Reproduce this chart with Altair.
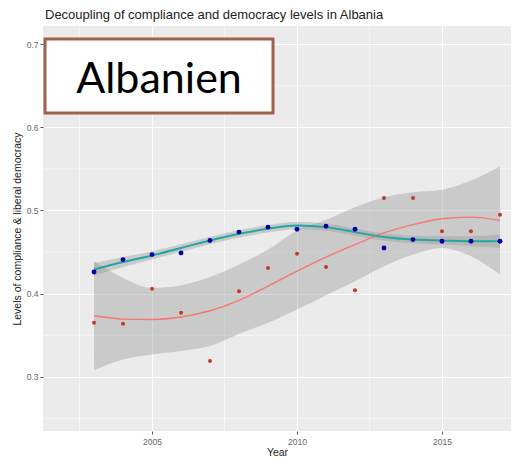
import altair as alt
import pandas as pd

years = list(range(2003, 2018))

# observed points
compliance = [0.365, 0.364, 0.406, 0.377, 0.319, 0.403, 0.431, 0.448, 0.432,
              0.404, 0.515, 0.515, 0.475, 0.475, 0.495]
democracy = [0.426, 0.441, 0.447, 0.449, 0.464, 0.474, 0.480, 0.4775, 0.481,
             0.4775, 0.455, 0.465, 0.463, 0.463, 0.463]

# smoothed fits and confidence bands
comp_fit = [0.3735, 0.3695, 0.369, 0.372, 0.3795, 0.392, 0.409, 0.427, 0.444,
            0.459, 0.473, 0.483, 0.490, 0.492, 0.488]
comp_lo = [0.308, 0.321, 0.327, 0.331, 0.337, 0.352, 0.365, 0.381, 0.398,
           0.415, 0.433, 0.447, 0.455, 0.445, 0.423]
comp_hi = [0.439, 0.419, 0.407, 0.410, 0.420, 0.435, 0.453, 0.476, 0.489,
           0.504, 0.516, 0.522, 0.525, 0.536, 0.553]

demo_fit = [0.429, 0.438, 0.446, 0.455, 0.464, 0.472, 0.478, 0.482, 0.480,
            0.474, 0.468, 0.465, 0.464, 0.463, 0.463]
demo_lo = [0.4215, 0.432, 0.441, 0.4505, 0.4595, 0.4675, 0.4735, 0.4775, 0.4755,
           0.4695, 0.4635, 0.4605, 0.459, 0.457, 0.455]
demo_hi = [0.4365, 0.444, 0.451, 0.4595, 0.4685, 0.4765, 0.4825, 0.4865, 0.4845,
           0.4785, 0.4725, 0.4695, 0.469, 0.469, 0.471]

x_major = [2005, 2010, 2015]
x_minor = [2002.5, 2007.5, 2012.5, 2017.5]
y_major = [0.3, 0.4, 0.5, 0.6, 0.7]
y_minor = [0.25, 0.35, 0.45, 0.55, 0.65]

title_text = "Decoupling of compliance and democracy levels in Albania"
x_title = "Year"
y_title = "Levels of compliance & liberal democracy"
label_text = "Albanien"

df = pd.DataFrame({
    "year": years,
    "compliance": compliance, "democracy": democracy,
    "comp_fit": comp_fit, "comp_lo": comp_lo, "comp_hi": comp_hi,
    "demo_fit": demo_fit, "demo_lo": demo_lo, "demo_hi": demo_hi,
})

W, H = 468, 405
xs = alt.Scale(domain=[2001.24, 2017.38], nice=False, zero=False)
ys = alt.Scale(domain=[0.235, 0.7217], nice=False, zero=False)

xaxis = alt.Axis(values=x_major, format="d", title=x_title, grid=True)
yaxis = alt.Axis(values=y_major, format=".1f", title=y_title, grid=True)


def X(field):
    return alt.X(field, scale=xs, axis=xaxis)


def Y(field):
    return alt.Y(field, scale=ys, axis=yaxis)


base = alt.Chart(df)

minor_x = alt.Chart(pd.DataFrame({"year": x_minor})).mark_rule(
    color="white", strokeWidth=0.5).encode(x=X("year:Q"))
minor_y = alt.Chart(pd.DataFrame({"v": y_minor})).mark_rule(
    color="white", strokeWidth=0.5).encode(y=Y("v:Q"))

band_c = base.mark_area(color="#999999", opacity=0.4, interpolate="monotone").encode(
    x=X("year:Q"), y=Y("comp_lo:Q"), y2="comp_hi:Q")
band_d = base.mark_area(color="#999999", opacity=0.4, interpolate="monotone").encode(
    x=X("year:Q"), y=Y("demo_lo:Q"), y2="demo_hi:Q")

line_c = base.mark_line(color="#F8766D", strokeWidth=1.4, interpolate="monotone").encode(
    x=X("year:Q"), y=Y("comp_fit:Q"))
line_d = base.mark_line(color="#1FA89F", strokeWidth=2, interpolate="monotone").encode(
    x=X("year:Q"), y=Y("demo_fit:Q"))

pts_c = base.mark_circle(color="#C0392B", size=16, opacity=1).encode(
    x=X("year:Q"), y=Y("compliance:Q"))
pts_d = base.mark_circle(color="#0000A8", size=24, opacity=1).encode(
    x=X("year:Q"), y=Y("democracy:Q"))

one = pd.DataFrame({"a": [0]})
box = alt.Chart(one).mark_rect(fill="white", stroke="#A0614F", strokeWidth=3).encode(
    x=alt.value(2), x2=alt.value(230), y=alt.value(13), y2=alt.value(87))
txt = alt.Chart(one).mark_text(text=label_text, font="Lato", fontSize=43,
                               align="center", baseline="alphabetic", color="black").encode(
    x=alt.value(116), y=alt.value(67))

chart = alt.layer(
    minor_x, minor_y, band_c, band_d, line_c, line_d, pts_c, pts_d, box, txt
).properties(
    width=W, height=H,
    title=alt.TitleParams(title_text, anchor="start", frame="group", fontSize=13,
                          font="Liberation Sans", fontWeight="normal", color="#222222",
                          offset=4, dx=2),
    autosize=alt.AutoSizeParams(type="none"),
    padding={"left": 35, "top": 18, "right": 0, "bottom": 28},
).configure_view(
    fill="#EBEBEB", strokeWidth=0
).configure_axis(
    domain=False, gridColor="white", gridWidth=1, tickColor="#555555", tickSize=3,
    labelFontSize=8.5, labelColor="#666666", labelPadding=2, labelFont="Liberation Sans",
    titleFontSize=10.5, titleColor="#222222", titleFontWeight="normal",
    titleFont="Liberation Sans"
).configure_axisX(labelPadding=3, titlePadding=2).configure_axisY(titlePadding=4)

chart.save("out.html", embed_options={"renderer": "svg", "actions": False})
